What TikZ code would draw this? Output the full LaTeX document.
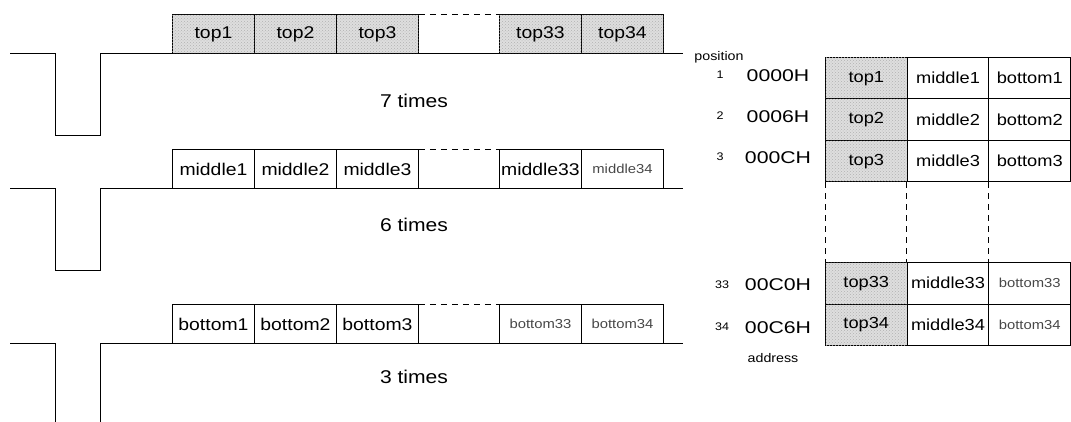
\documentclass[tikz,border=0pt]{standalone}
\usepackage{fontspec}
\setmainfont{Liberation Sans}
\newfontfamily\wide[FakeStretch=1.14]{Liberation Sans}
\newfontfamily\addrfont[FakeStretch=1.25]{Liberation Sans}
\usetikzlibrary{patterns}
\tikzset{
  wave/.style={line width=0.9pt},
  cell/.style={draw, line width=0.9pt, rectangle, inner sep=0pt, anchor=north west,
    minimum width=82pt, minimum height=39pt, font=\wide\fontsize{17}{17}\selectfont},
  tcell/.style={cell, minimum width=81.7pt, minimum height=41.5pt,
    font=\wide\fontsize{16}{16}\selectfont},
  shaded/.style={fill=black!13, postaction={pattern=crosshatch dots, pattern color=black!30}},
  faint/.style={text=black!72, font=\wide\fontsize{13}{13}\selectfont},
  gap/.style={line width=0.9pt, dash pattern=on 6pt off 5pt},
  times/.style={anchor=base, font=\wide\fontsize{18.5}{18.5}\selectfont},
  addr/.style={anchor=base, font=\addrfont\fontsize{17}{17}\selectfont},
  posnum/.style={anchor=base, font=\wide\fontsize{11}{11}\selectfont},
  caption/.style={anchor=base, font=\wide\fontsize{12.5}{12.5}\selectfont},
}
\begin{document}
\begin{tikzpicture}[x=1pt,y=-1pt]
\useasboundingbox (0,0) rectangle (1071,422);

% ---- first pass: top parts ----
\draw[wave] (10,53) -- (55,53) -- (55,135) -- (100,135) -- (100,53) -- (683,53);
\node[cell,shaded] (t1)  at (172,14) {top1};
\node[cell,shaded] (t2)  at (254,14) {top2};
\node[cell,shaded] (t3)  at (336,14) {top3};
\node[cell,shaded] (t33) at (499,14) {top33};
\node[cell,shaded] (t34) at (581,14) {top34};
\draw[gap] (t3.north east) -- (t33.north west);
\node[times] (n7) at (414,108) {7 times};

% ---- second pass: middle parts ----
\draw[wave] (10,188) -- (55,188) -- (55,270) -- (100,270) -- (100,188) -- (683,188);
\node[cell] (m1)  at (172,149) {middle1};
\node[cell] (m2)  at (254,149) {middle2};
\node[cell] (m3)  at (336,149) {middle3};
\node[cell] (m33) at (499,149) {middle33};
\node[cell,faint] (m34) at (581,149) {middle34};
\draw[gap] (m3.north east) -- (m33.north west);
\node[times] (n6) at (414,232) {6 times};

% ---- third pass: bottom parts ----
\draw[wave] (10,343) -- (55,343) -- (55,422);
\draw[wave] (100,422) -- (100,343) -- (683,343);
\node[cell] (b1)  at (172,304) {bottom1};
\node[cell] (b2)  at (254,304) {bottom2};
\node[cell] (b3)  at (336,304) {bottom3};
\node[cell,faint] (b33) at (499,304) {bottom33};
\node[cell,faint] (b34) at (581,304) {bottom34};
\draw[gap] (b3.north east) -- (b33.north west);
\node[times] (n3) at (414,383) {3 times};

% ---- memory table ----
\node[tcell,shaded] (r1a) at (825,57)    {top1};
\node[tcell]        (r1b) at (906.7,57)  {middle1};
\node[tcell]        (r1c) at (988.4,57)  {bottom1};
\node[tcell,shaded] (r2a) at (825,98.5)   {top2};
\node[tcell]        (r2b) at (906.7,98.5) {middle2};
\node[tcell]        (r2c) at (988.4,98.5) {bottom2};
\node[tcell,shaded] (r3a) at (825,140)    {top3};
\node[tcell]        (r3b) at (906.7,140)  {middle3};
\node[tcell]        (r3c) at (988.4,140)  {bottom3};
\node[tcell,shaded] (r33a) at (825,262)    {top33};
\node[tcell]        (r33b) at (906.7,262)  {middle33};
\node[tcell,faint]  (r33c) at (988.4,262)  {bottom33};
\node[tcell,shaded] (r34a) at (825,303.5)   {top34};
\node[tcell]        (r34b) at (906.7,303.5) {middle34};
\node[tcell,faint]  (r34c) at (988.4,303.5) {bottom34};
\draw[gap] (r3a.south west) -- (r33a.north west);
\draw[gap] (r3b.south west) -- (r33b.north west);
\draw[gap] (r3c.south west) -- (r33c.north west);
\draw[gap] (r3c.south east) -- (r33c.north east);

% ---- addresses and positions ----
\node[caption] (lpos) at (719,61) {position};
\node[posnum] (p1)  at (720,79)  {1};
\node[addr]   (a1)  at (778,82)  {0000H};
\node[posnum] (p2)  at (720,120) {2};
\node[addr]   (a2)  at (778,123) {0006H};
\node[posnum] (p3)  at (720,161) {3};
\node[addr]   (a3)  at (778,164) {000CH};
\node[posnum] (p33) at (722,288) {33};
\node[addr]   (a33) at (778,290) {00C0H};
\node[posnum] (p34) at (722,330) {34};
\node[addr]   (a34) at (778,333) {00C6H};
\node[caption] (laddr) at (773,362) {address};
\end{tikzpicture}
\end{document}
